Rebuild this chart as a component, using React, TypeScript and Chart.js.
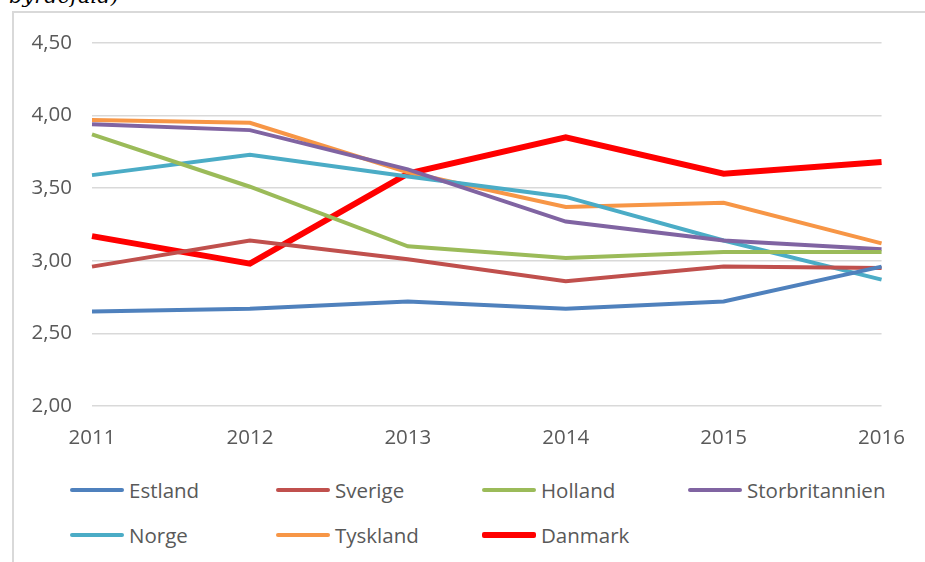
import React, { useEffect, useRef } from "react";
import { Chart, registerables } from "chart.js";

Chart.register(...registerables);

const years = ["2011", "2012", "2013", "2014", "2015", "2016"];
const estland = [2.65, 2.67, 2.72, 2.67, 2.72, 2.96];
const sverige = [2.96, 3.14, 3.01, 2.86, 2.96, 2.95];
const holland = [3.87, 3.51, 3.1, 3.02, 3.06, 3.06];
const storbritannien = [3.94, 3.9, 3.63, 3.27, 3.14, 3.08];
const norge = [3.59, 3.73, 3.58, 3.44, 3.14, 2.87];
const tyskland = [3.97, 3.95, 3.61, 3.37, 3.4, 3.12];
const danmark = [3.17, 2.98, 3.6, 3.85, 3.6, 3.68];

const seriesNames = ["Estland", "Sverige", "Holland", "Storbritannien", "Norge", "Tyskland", "Danmark"];
const seriesData = [estland, sverige, holland, storbritannien, norge, tyskland, danmark];
const seriesColors = ["#4f81bd", "#c0504d", "#9bbb59", "#8064a2", "#4bacc6", "#f79646", "#ff0000"];
const seriesWidths = [4, 4, 4, 4, 4, 4, 6];

const FONT = "'Open Sans', sans-serif";
const TEXT = "#595959";

export default function App() {
  const ref = useRef<HTMLCanvasElement | null>(null);

  useEffect(() => {
    document.body.style.margin = "0";
    const canvas = ref.current;
    if (!canvas) return;
    const chart = new Chart(canvas, {
      type: "line",
      data: {
        labels: years,
        datasets: seriesNames.map((name, i) => ({
          label: name,
          data: seriesData[i],
          borderColor: seriesColors[i],
          backgroundColor: seriesColors[i],
          borderWidth: seriesWidths[i],
          pointRadius: 0,
          pointHoverRadius: 0,
          tension: 0,
          fill: false,
        })),
      },
      options: {
        responsive: false,
        animation: false,
        layout: { padding: { left: 0, right: 42, top: 43, bottom: 0 } },
        plugins: {
          legend: { display: false },
          tooltip: { enabled: false },
        },
        scales: {
          x: {
            offset: false,
            grid: { display: false, drawTicks: false },
            border: { display: false },
            ticks: {
              color: TEXT,
              font: { family: FONT, size: 20.5 },
              padding: 20,
              maxRotation: 0,
            },
            afterFit: (scale: any) => {
              scale.height = 64;
            },
          },
          y: {
            min: 2,
            max: 4.5,
            grid: { color: "#d9d9d9", lineWidth: 1.5, drawTicks: false },
            border: { display: false },
            ticks: {
              stepSize: 0.5,
              color: TEXT,
              font: { family: FONT, size: 20.5 },
              padding: 20,
              callback: (v: any) => Number(v).toFixed(2).replace(".", ","),
            },
            afterFit: (scale: any) => {
              scale.width = 92;
            },
          },
        },
      },
    });
    return () => chart.destroy();
  }, []);

  const colX = [70, 276, 482, 688];
  const rowY = [490, 535];

  return (
    <div
      style={{
        position: "fixed",
        left: 0,
        top: 0,
        width: 925,
        height: 562,
        background: "#fff",
        overflow: "hidden",
      }}
    >
      <div
        style={{
          position: "absolute",
          left: 9,
          top: -14,
          fontFamily: "'DejaVu Serif', serif",
          fontStyle: "italic",
          fontSize: 21,
          lineHeight: "21px",
          color: "#000",
          whiteSpace: "nowrap",
        }}
      >
        byrdefald)
      </div>
      <div
        style={{
          position: "absolute",
          left: 12,
          top: 11,
          width: 2000,
          height: 2000,
          borderLeft: "2px solid #d9d9d9",
          borderTop: "2px solid #d9d9d9",
        }}
      />
      <canvas
        ref={ref}
        width={925}
        height={470}
        style={{ position: "absolute", left: 0, top: 0, width: 925, height: 470 }}
      />
      {seriesNames.map((name, i) => {
        const col = i % 4;
        const row = Math.floor(i / 4);
        return (
          <div
            key={name}
            style={{
              position: "absolute",
              left: colX[col],
              top: rowY[row] - 15,
              height: 30,
              display: "flex",
              alignItems: "center",
              fontFamily: FONT,
              fontSize: 20.5,
              color: TEXT,
              whiteSpace: "nowrap",
            }}
          >
            <span
              style={{
                display: "inline-block",
                width: 54,
                height: seriesWidths[i],
                background: seriesColors[i],
                borderRadius: 2,
                marginRight: 5,
              }}
            />
            {name}
          </div>
        );
      })}
    </div>
  );
}
